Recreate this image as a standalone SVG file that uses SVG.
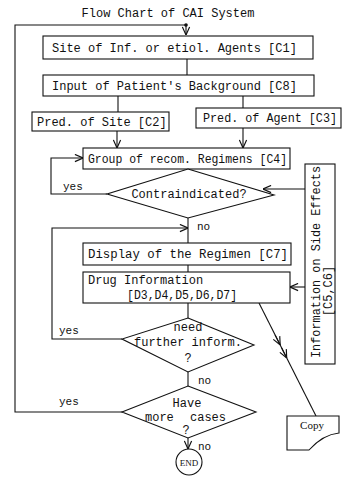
<svg xmlns="http://www.w3.org/2000/svg" width="349" height="480" viewBox="0 0 349 480">
<defs>
<marker id="arr" viewBox="0 0 10 10" refX="10" refY="5" markerWidth="9" markerHeight="9" markerUnits="userSpaceOnUse" orient="auto"><path d="M1,1 L10,5 L1,9" fill="none" stroke="#111" stroke-width="1.3"/></marker>
</defs>
<style>
.b{fill:#fff;stroke:#111;stroke-width:1.1}
.t{font-family:"Liberation Mono","DejaVu Sans Mono",monospace;font-size:12px;fill:#111}
.s{font-family:"Liberation Mono","DejaVu Sans Mono",monospace;font-size:11px;fill:#111}
.m{text-anchor:middle}
.c{fill:none;stroke:#111;stroke-width:1.1}
.a{marker-end:url(#arr)}
</style>
<rect width="349" height="480" fill="#fff"/>
<text id="title" class="t m" x="168" y="17">Flow Chart of CAI System</text>

<g id="connectors">
<path class="c a" d="M123,412 H15 V25 H186 V35"/>
<circle cx="186" cy="25" r="1.8" fill="#111"/>
<path class="c" d="M187,59 V75"/>
<path class="c" d="M118,96 V112"/>
<path class="c" d="M243,96 V108"/>
<path class="c a" d="M117,131 V148"/>
<path class="c a" d="M243,128 V148"/>
<path class="c a" d="M107,194 H51 V158 H83"/>
<path class="c" d="M188,218 V243"/>
<path class="c a" d="M122,339 H52 V228 H188"/>
<path class="c" d="M188,265 V272"/>
<path class="c" d="M188,303 V318"/>
<path class="c" d="M188,372 V386"/>
<path class="c a" d="M188,438 V449"/>
<path class="c a" d="M305,189 H263"/>
<path class="c a" d="M305,287 H290"/>
<path class="c" d="M259,303 L316,416" />
<path class="c a" d="M275.1,335 L280.2,345"/>
<path class="c a" d="M281.7,348 L286.7,358"/>
<text class="s" x="63" y="190">yes</text>
<text class="s" x="197" y="230">no</text>
<text class="s" x="59" y="334">yes</text>
<text class="s" x="198" y="384">no</text>
<text class="s" x="59" y="405">yes</text>
<text class="s" x="198" y="450">no</text>
</g>

<g id="c1">
<rect class="b" x="43" y="36" width="270" height="23"/>
<text class="t" x="52" y="52">Site of Inf. or etiol. Agents [C1]</text>
</g>
<g id="c8">
<rect class="b" x="43" y="75" width="271" height="21"/>
<text class="t" x="52" y="90">Input of Patient's Background [C8]</text>
</g>
<g id="c2">
<rect class="b" x="32" y="112" width="137" height="19"/>
<text class="t" x="37" y="126">Pred. of Site [C2]</text>
</g>
<g id="c3">
<rect class="b" x="196" y="108" width="145" height="20"/>
<text class="t" x="203" y="122" textLength="134" lengthAdjust="spacingAndGlyphs">Pred. of Agent [C3]</text>
</g>
<g id="c4">
<rect class="b" x="83" y="148" width="207" height="21"/>
<text class="t" x="88" y="163" textLength="199" lengthAdjust="spacingAndGlyphs">Group of recom. Regimens [C4]</text>
</g>
<g id="contra">
<polygon class="b" points="188,169 274,195 188,218 107,194"/>
<text class="t m" x="189" y="198">Contraindicated?</text>
</g>
<g id="side">
<rect class="b" x="305" y="164" width="30" height="200"/>
<text class="t m" transform="translate(320,262) rotate(-90)" textLength="192" lengthAdjust="spacingAndGlyphs">Information on Side Effects</text>
<text class="t m" transform="translate(332,291) rotate(-90)">[C5,C6]</text>
</g>
<g id="c7">
<rect class="b" x="83" y="243" width="208" height="22"/>
<text class="t" x="88" y="258" textLength="200" lengthAdjust="spacingAndGlyphs">Display of the Regimen [C7]</text>
</g>
<g id="drug">
<rect class="b" x="83" y="272" width="207" height="31"/>
<text class="t" x="88" y="284">Drug Information</text>
<text class="t" x="127" y="299" textLength="110" lengthAdjust="spacingAndGlyphs">[D3,D4,D5,D6,D7]</text>
</g>
<g id="further">
<polygon class="b" points="188,318 254,345 188,372 122,339"/>
<text class="t m" x="188" y="331">need</text>
<text class="t m" x="188" y="346">further inform.</text>
<text class="t m" x="188" y="362">?</text>
</g>
<g id="more">
<polygon class="b" points="188,386 256,412 188,438 122,412"/>
<text class="t m" x="187" y="407">Have</text>
<text class="t" x="145" y="421">more</text>
<text class="t" x="190" y="421">cases</text>
<text class="t m" x="186" y="434">?</text>
</g>
<g id="end">
<circle class="b" cx="189" cy="462" r="13"/>
<text x="189" y="465.5" text-anchor="middle" font-family="Liberation Serif, serif" font-size="9" fill="#111">END</text>
</g>
<g id="copy">
<path class="b" d="M287,416 H339 V433 C328,434 318,440 309,450 H287 Z"/>
<text x="312" y="429" text-anchor="middle" font-family="Liberation Serif, serif" font-size="11" fill="#111">Copy</text>
</g>
</svg>
